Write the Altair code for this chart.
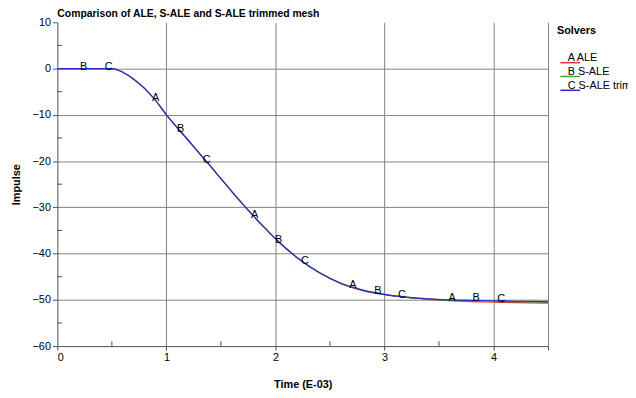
import altair as alt
import pandas as pd

# ---- data ----
times = [0.0, 0.5, 0.6, 0.7, 0.8, 0.9, 1.0, 1.1, 1.2, 1.3, 1.4, 1.5, 1.6, 1.7,
         1.8, 1.9, 2.0, 2.2, 2.4, 2.6, 2.8, 3.0, 3.2, 3.4, 3.6, 3.8, 4.0, 4.2, 4.5]
ale = [0.0, 0.0, -0.8, -2.3, -4.3, -6.9, -10.0, -12.8, -15.5, -18.3, -21.0, -23.8,
       -26.6, -29.3, -31.9, -34.4, -36.8, -40.9, -44.1, -46.5, -48.0, -48.9, -49.5,
       -49.9, -50.2, -50.4, -50.5, -50.6, -50.7]
s_ale = [0.0, 0.0, -0.8, -2.3, -4.3, -6.9, -10.0, -12.8, -15.5, -18.3, -21.0, -23.8,
         -26.6, -29.3, -31.9, -34.4, -36.8, -40.9, -44.1, -46.4, -47.9, -48.8, -49.4,
         -49.8, -50.1, -50.2, -50.3, -50.4, -50.5]
s_ale_trim = [0.0, 0.0, -0.8, -2.3, -4.3, -6.9, -10.0, -12.8, -15.5, -18.3, -21.0, -23.8,
              -26.6, -29.3, -31.9, -34.4, -36.8, -40.9, -44.1, -46.4, -47.9, -48.8, -49.4,
              -49.8, -50.0, -50.1, -50.2, -50.3, -50.4]
series_names = ["ALE", "S-ALE", "S-ALE trimmed mesh"]
series_letters = ["A", "B", "C"]
series_colors = ["#e0333a", "#3aa83a", "#2b2bc8"]

label_letter = ["B", "C", "A", "B", "C", "A", "B", "C", "A", "B", "C", "A", "B", "C"]
label_t = [0.24, 0.47, 0.90, 1.13, 1.37, 1.81, 2.03, 2.27, 2.71, 2.94, 3.16, 3.62, 3.84, 4.07]
label_y = [0.0, 0.0, -6.8, -13.6, -20.2, -32.2, -37.4, -42.0, -47.2, -48.6, -49.3, -50.0, -50.1, -50.2]

x_major = [0, 1, 2, 3, 4, 4.5]
y_major = [-60, -50, -40, -30, -20, -10, 0, 10]
x_minor = [0.5, 1.5, 2.5, 3.5]
y_minor = [-55, -45, -35, -25, -15, -5, 5]

# ---- tables ----
rows = []
for name, vals in zip(series_names, [ale, s_ale, s_ale_trim]):
    for t, v in zip(times, vals):
        rows.append({"series": name, "t": t, "imp": v})
lines_df = pd.DataFrame(rows)
labels_df = pd.DataFrame({"letter": label_letter, "t": label_t, "imp": label_y})
xminor_df = pd.DataFrame({"t": x_minor})
yminor_df = pd.DataFrame({"imp": y_minor})

FONT = "Liberation Sans"
xscale = alt.Scale(domain=[0, 4.5], nice=False, zero=False)
yscale = alt.Scale(domain=[-60, 10], nice=False, zero=False)

x_enc = alt.X("t:Q", scale=xscale, title="Time (E-03)",
              axis=alt.Axis(values=x_major,
                            labelExpr="datum.value == 4.5 ? '' : datum.label",
                            tickSize=4,
                            gridOpacity={"condition": {"test": "datum.value == 0", "value": 0}, "value": 1}))
y_enc = alt.Y("imp:Q", scale=yscale, title="Impulse",
              axis=alt.Axis(values=y_major, tickSize=5,
                            gridOpacity={"condition": {"test": "datum.value == 10 || datum.value == -60", "value": 0}, "value": 1}))

legend_expr = " : ".join(
    [f"datum.label == '{n}' ? '{l}  {n}'" for n, l in zip(series_names, series_letters)]
) + " : datum.label"

lines = alt.Chart(lines_df).mark_line(strokeWidth=1.2, interpolate="monotone").encode(
    x=x_enc,
    y=y_enc,
    color=alt.Color("series:N",
                    scale=alt.Scale(domain=series_names, range=series_colors),
                    legend=alt.Legend(title="Solvers", orient="none", legendX=506, legendY=3,
                                      symbolType="M-1,2.2H9", symbolSize=16,
                                      symbolStrokeWidth=1.5, labelOffset=0,
                                      labelExpr=legend_expr, labelLimit=400,
                                      titlePadding=17, rowPadding=0,
                                      labelFontSize=11, titleFontSize=11,
                                      labelFont=FONT, titleFont=FONT,
                                      labelColor="#000000", titleColor="#000000")),
    order=alt.Order("series:N"),
)

letters = alt.Chart(labels_df).mark_text(
    font=FONT, fontSize=11, color="#000000", align="center", baseline="alphabetic", dy=1
).encode(x=x_enc, y=y_enc, text="letter:N")

xminor = alt.Chart(xminor_df).mark_rule(color="#505050", strokeWidth=1).encode(
    x=x_enc, y=alt.value(328), y2=alt.value(323),
)
yminor = alt.Chart(yminor_df).mark_rule(color="#505050", strokeWidth=1).encode(
    y=y_enc, x=alt.value(0), x2=alt.value(5),
)

chart = alt.layer(lines, letters, xminor, yminor).properties(
    width=497, height=328,
    autosize=alt.AutoSizeParams(type="none"),
    padding={"left": 50, "top": 12, "right": 81, "bottom": 42},
    title=alt.TitleParams("Comparison of ALE, S-ALE and S-ALE trimmed mesh",
                          anchor="start", frame="group", font=FONT, fontSize=10.5,
                          fontWeight="bold", color="#000000", offset=3, dy=6),
    background="#ffffff",
).configure_view(stroke="transparent").configure_axis(
    labelFont=FONT, titleFont=FONT, labelFontSize=11, titleFontSize=11,
    labelColor="#000000", titleColor="#000000", titleFontWeight="bold",
    domainColor="#505050", tickColor="#505050", gridColor="#808080",
    gridWidth=1, domainWidth=1,
).configure_axisX(labelPadding=2, titlePadding=16).configure_axisY(labelPadding=2, titlePadding=11)

chart.save("out.html", embed_options={"renderer": "svg", "actions": False})
